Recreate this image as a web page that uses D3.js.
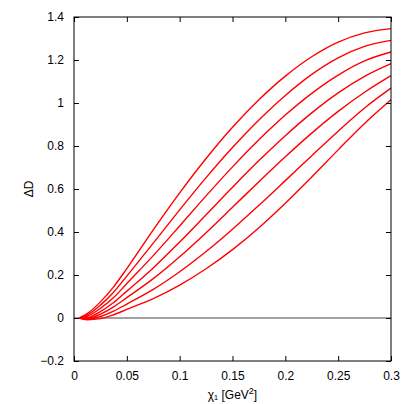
<!DOCTYPE html>
<html>
<head>
<meta charset="utf-8">
<script src="https://cdn.jsdelivr.net/npm/d3@7"></script>
<style>
  body { margin: 0; background: #fff; }
  text { font-family: "Liberation Sans", Arial, sans-serif; font-size: 12px; fill: #000; }
</style>
</head>
<body>
<svg id="chart" width="415" height="404"></svg>
<script>
// chi1 sample points (GeV^2)
const chi = [0.005, 0.0125, 0.025, 0.0375, 0.05, 0.075, 0.1, 0.125, 0.15, 0.175, 0.2, 0.225, 0.25, 0.275, 0.3];

// Delta D curves (top to bottom)
const curve1 = [0, 0.020, 0.075, 0.145, 0.230, 0.410, 0.582, 0.742, 0.887, 1.015, 1.125, 1.215, 1.283, 1.326, 1.346];
const curve2 = [0, 0.014, 0.060, 0.120, 0.195, 0.348, 0.503, 0.653, 0.793, 0.921, 1.035, 1.133, 1.210, 1.263, 1.291];
const curve3 = [0, 0.008, 0.045, 0.095, 0.160, 0.290, 0.428, 0.568, 0.703, 0.829, 0.944, 1.045, 1.130, 1.196, 1.237];
const curve4 = [0, 0.002, 0.030, 0.072, 0.125, 0.233, 0.353, 0.480, 0.608, 0.732, 0.848, 0.954, 1.047, 1.124, 1.183];
const curve5 = [0, -0.003, 0.018, 0.052, 0.095, 0.183, 0.285, 0.397, 0.515, 0.634, 0.750, 0.860, 0.961, 1.050, 1.127];
const curve6 = [0, -0.006, 0.007, 0.032, 0.065, 0.133, 0.215, 0.309, 0.413, 0.524, 0.639, 0.755, 0.869, 0.977, 1.069];
const curve7 = [0, -0.008, -0.003, 0.015, 0.040, 0.090, 0.153, 0.229, 0.318, 0.420, 0.534, 0.656, 0.782, 0.905, 1.015];
const curves = [curve1, curve2, curve3, curve4, curve5, curve6, curve7];

const xTicks = [0, 0.05, 0.1, 0.15, 0.2, 0.25, 0.3];
const yTicks = [-0.2, 0, 0.2, 0.4, 0.6, 0.8, 1, 1.2, 1.4];

// plot box
const margin = {top: 17, right: 24, bottom: 43, left: 74};
const W = 415, H = 404;
const w = W - margin.left - margin.right, h = H - margin.top - margin.bottom;

const svg = d3.select("#chart");
const g = svg.append("g").attr("transform", "translate(" + margin.left + "," + margin.top + ")");

const x = d3.scaleLinear().domain([0, 0.3]).range([0, w]);
const y = d3.scaleLinear().domain([-0.2, 1.4]).range([h, 0]);

// zero line
g.append("line")
  .attr("x1", 0).attr("x2", w)
  .attr("y1", y(0)).attr("y2", y(0))
  .attr("stroke", "#444").attr("stroke-width", 1);

// curves
const line = d3.line()
  .x(function(d, i) { return x(chi[i]); })
  .y(function(d) { return y(d); })
  .curve(d3.curveMonotoneX);

g.selectAll(".curve")
  .data(curves)
  .enter().append("path")
  .attr("class", "curve")
  .attr("d", line)
  .attr("fill", "none")
  .attr("stroke", "#ff0000")
  .attr("stroke-width", 1.4);

// axes, ticks inward on every side
const fmt = function(d) { return d3.format("")(+d.toFixed(2)); };
const axBottom = g.append("g").attr("transform", "translate(0," + h + ")")
  .call(d3.axisBottom(x).tickValues(xTicks).tickSize(-5).tickPadding(10).tickFormat(fmt));
const axLeft = g.append("g")
  .call(d3.axisLeft(y).tickValues(yTicks).tickSize(-5).tickPadding(10).tickFormat(fmt));
const axTop = g.append("g")
  .call(d3.axisTop(x).tickValues(xTicks).tickSize(-5).tickFormat(""));
const axRight = g.append("g").attr("transform", "translate(" + w + ",0)")
  .call(d3.axisRight(y).tickValues(yTicks).tickSize(-5).tickFormat(""));

[axBottom, axLeft, axTop, axRight].forEach(function(a) {
  a.select(".domain").remove();
  a.selectAll("line").attr("stroke", "#000");
  a.selectAll("text").style("font-size", "12px").style("font-family", "'Liberation Sans', Arial, sans-serif");
});

// frame
g.append("rect")
  .attr("width", w).attr("height", h)
  .attr("fill", "none").attr("stroke", "#000").attr("stroke-width", 1);

// labels
svg.append("text")
  .attr("transform", "translate(33," + (margin.top + h / 2) + ") rotate(-90)")
  .attr("text-anchor", "middle")
  .text("ΔD");

const xl = svg.append("text")
  .attr("x", margin.left + w / 2).attr("y", 399)
  .attr("text-anchor", "middle");
xl.append("tspan").text("χ₁ [GeV");
xl.append("tspan").attr("dy", -5).style("font-size", "9px").text("2");
xl.append("tspan").attr("dy", 5).text("]");
</script>
</body>
</html>
